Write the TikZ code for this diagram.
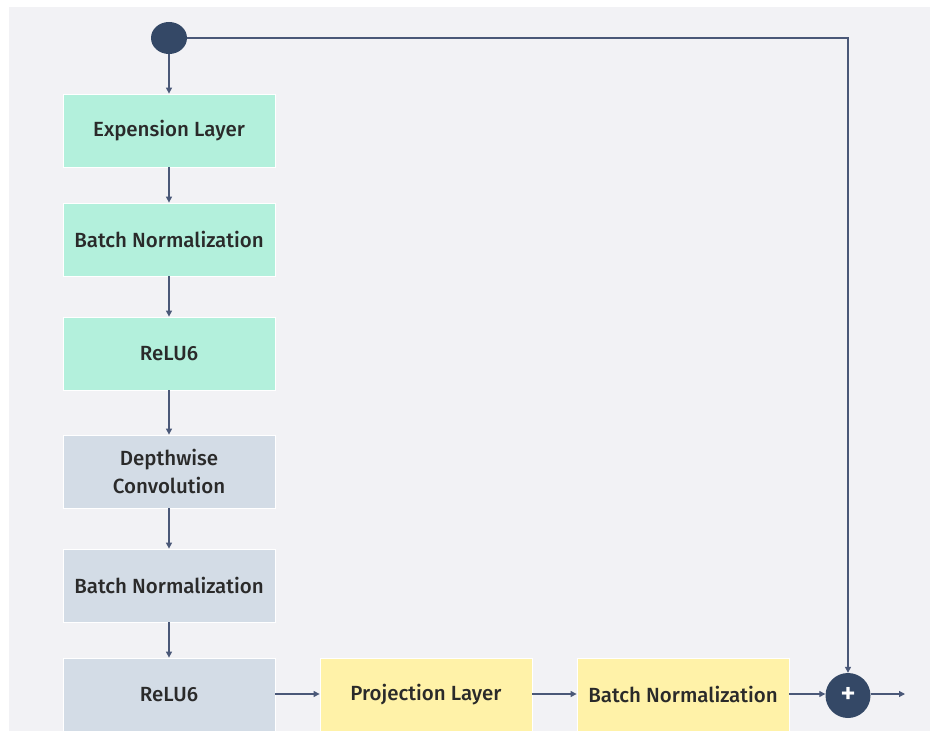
\documentclass[tikz,border=0pt]{standalone}
\usepackage{fontspec}
\setmainfont{Fira Sans}[BoldFont={Fira Sans Medium}]
\usetikzlibrary{arrows.meta,shapes.geometric}
\definecolor{panel}{HTML}{F2F2F5}
\definecolor{greenbox}{HTML}{B3F0DC}
\definecolor{bluebox}{HTML}{D3DCE6}
\definecolor{yellowbox}{HTML}{FFF2A8}
\definecolor{navy}{HTML}{344866}
\definecolor{linec}{HTML}{4A5878}
\definecolor{textc}{HTML}{2A2A2A}
\tikzset{
  layer/.style={draw=white, line width=0.8pt, minimum width=212pt, minimum height=73pt, align=center, font=\bfseries\fontsize{20.5}{28}\selectfont, text=textc, inner sep=0pt},
  gbox/.style={layer, fill=greenbox},
  bbox/.style={layer, fill=bluebox},
  ybox/.style={layer, fill=yellowbox},
  conn/.style={draw=linec, line width=1.2pt, -{Triangle[length=6pt,width=6pt]}}
}
\begin{document}
\begin{tikzpicture}[x=1pt,y=-1pt]
\useasboundingbox (0,0) rectangle (930,733);
\fill[panel] (9,7) rectangle (929.5,731);
\node[ellipse, fill=navy, minimum width=36pt, minimum height=32pt, inner sep=0pt] (in) at (169,38) {};
\node[gbox] (e1) at (169,130.5) {Expension Layer};
\node[gbox] (e2) at (169,239.5) {Batch Normalization};
\node[gbox] (e3) at (169,353.5) {ReLU6};
\node[bbox] (d1) at (169,471.5) {Depthwise\\Convolution};
\node[bbox] (d2) at (169,585.5) {Batch Normalization};
\node[bbox] (d3) at (169,694.5) {ReLU6};
\node[ybox] (p1) at (426,694.5) {Projection Layer};
\node[ybox] (p2) at (683,694.5) {Batch Normalization};
\node[circle, fill=navy, minimum size=45pt, inner sep=0pt, text=white, font=\bfseries\fontsize{30}{30}\selectfont] (add) at (848,695.5) {+};
\coordinate (out) at (905,694);
\coordinate (corner) at (848,38);
\draw[conn] (in) -- (e1);
\draw[conn] (e1) -- (e2);
\draw[conn] (e2) -- (e3);
\draw[conn] (e3) -- (d1);
\draw[conn] (d1) -- (d2);
\draw[conn] (d2) -- (d3);
\draw[conn] (d3.east |- 0,694) -- (p1.west |- 0,694);
\draw[conn] (p1.east |- 0,694) -- (p2.west |- 0,694);
\draw[conn] (p2.east |- 0,694) -- (add.west |- 0,694);
\draw[conn] (add.east |- 0,694) -- (out);
\draw[conn] (in.east) -- (corner) -- (add.north);
\end{tikzpicture}
\end{document}
